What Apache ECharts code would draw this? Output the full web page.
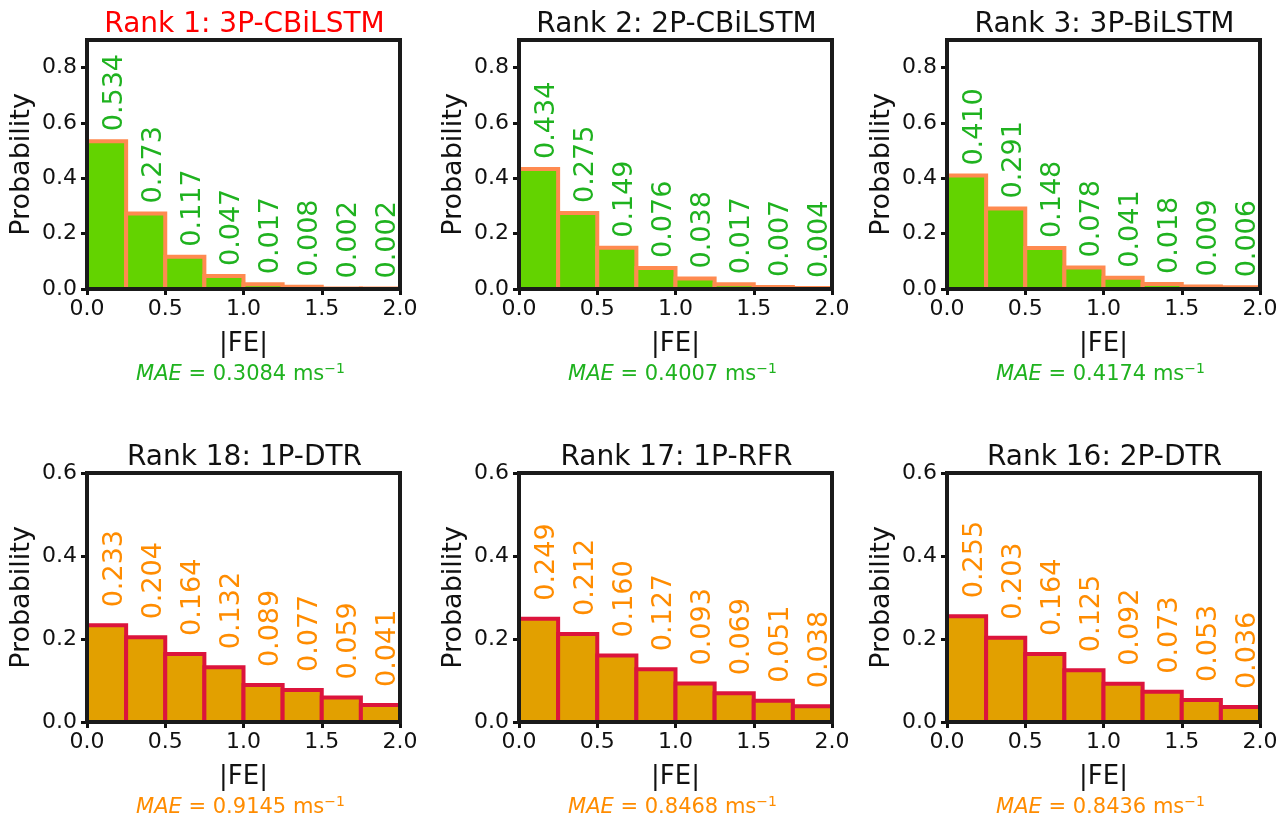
<!DOCTYPE html>
<html><head><meta charset="utf-8">
<script src="https://cdn.jsdelivr.net/npm/echarts@6/dist/echarts.min.js"></script>
<style>html,body{margin:0;padding:0;background:#fff}#c{width:1279px;height:818px}</style>
</head><body><div id="c"></div>
<script>
// ---- data ----
const binLo = [0, 0.25, 0.5, 0.75, 1.0, 1.25, 1.5, 1.75];
const binHi = [0.25, 0.5, 0.75, 1.0, 1.25, 1.5, 1.75, 2.0];
const titles = ['Rank 1: 3P-CBiLSTM', 'Rank 2: 2P-CBiLSTM', 'Rank 3: 3P-BiLSTM',
                'Rank 18: 1P-DTR', 'Rank 17: 1P-RFR', 'Rank 16: 2P-DTR'];
const probRank1  = [0.534, 0.273, 0.117, 0.047, 0.017, 0.008, 0.002, 0.002];
const probRank2  = [0.434, 0.275, 0.149, 0.076, 0.038, 0.017, 0.007, 0.004];
const probRank3  = [0.410, 0.291, 0.148, 0.078, 0.041, 0.018, 0.009, 0.006];
const probRank18 = [0.233, 0.204, 0.164, 0.132, 0.089, 0.077, 0.059, 0.041];
const probRank17 = [0.249, 0.212, 0.160, 0.127, 0.093, 0.069, 0.051, 0.038];
const probRank16 = [0.255, 0.203, 0.164, 0.125, 0.092, 0.073, 0.053, 0.036];
const maeValues = ['0.3084', '0.4007', '0.4174', '0.9145', '0.8468', '0.8436'];
const xTickValues = [0, 0.5, 1.0, 1.5, 2.0];
const yTicksTop = [0, 0.2, 0.4, 0.6, 0.8];
const yTicksBottom = [0, 0.2, 0.4, 0.6];
const yMaxTop = 0.9, yMaxBottom = 0.6;

// ---- layout / style ----
const panels = [probRank1, probRank2, probRank3, probRank18, probRank17, probRank16];
const lefts = [87, 519, 947];
const tops = [40, 473];
const W = 313, H = 249;
const FONT = 'DejaVu Sans';
const styleTop = {fill: '#63d300', stroke: '#ff8a50', label: '#1fb21f', title: '#111', mae: '#1fb21f', gap: 10};
const styleBot = {fill: '#e2a000', stroke: '#dc143c', label: '#ff8c00', title: '#111', mae: '#ff8c00', gap: 18};

const grid = [], xAxis = [], yAxis = [], series = [], graphics = [];
panels.forEach((vals, k) => {
  const row = k < 3 ? 0 : 1, col = k % 3;
  const st = row === 0 ? styleTop : styleBot;
  const left = lefts[col], top = tops[row];
  grid.push({left: left, top: top, width: W, height: H, show: true, borderColor: '#1a1a1a', borderWidth: 4,
             backgroundColor: 'transparent', z: 10, containLabel: false, outerBoundsMode: 'none'});
  xAxis.push({type: 'value', gridIndex: k, min: 0, max: 2, interval: 0.5,
    name: '|FE|', nameLocation: 'middle', nameGap: 42,
    nameTextStyle: {fontSize: 26, color: '#111', fontFamily: FONT},
    axisLine: {show: false}, splitLine: {show: false},
    axisTick: {show: true, length: 6, lineStyle: {width: 3, color: '#111'}},
    axisLabel: {margin: 9, fontSize: 22, color: '#111', fontFamily: FONT, formatter: v => v.toFixed(1)}});
  const yt = row === 0 ? yTicksTop : yTicksBottom;
  yAxis.push({type: 'value', gridIndex: k, min: 0, max: row === 0 ? yMaxTop : yMaxBottom, interval: 0.2,
    name: 'Probability', nameLocation: 'middle', nameGap: 52, nameRotate: 90,
    nameTextStyle: {fontSize: 27, color: '#111', fontFamily: FONT},
    axisLine: {show: false}, splitLine: {show: false},
    axisTick: {show: true, length: 6, lineStyle: {width: 3, color: '#111'}, customValues: yt},
    axisLabel: {margin: 10, fontSize: 22, color: '#111', fontFamily: FONT, customValues: yt, formatter: v => v.toFixed(1)}});
  const data = vals.map((v, i) => [binLo[i], binHi[i], v]);
  series.push({type: 'custom', xAxisIndex: k, yAxisIndex: k, data: data, clip: false,
    encode: {x: [0, 1], y: 2},
    renderItem: function (params, api) {
      const x0 = api.value(0), x1 = api.value(1), v = api.value(2);
      const pt = api.coord([x0, v]), pb = api.coord([x1, 0]);
      return {type: 'group', children: [
        {type: 'rect', shape: {x: pt[0], y: pt[1], width: pb[0] - pt[0], height: pb[1] - pt[1]},
         style: {fill: st.fill, stroke: st.stroke, lineWidth: 4}},
        {type: 'text', x: (pt[0] + pb[0]) / 2 + 8, y: pt[1] - st.gap, rotation: Math.PI / 2,
         style: {text: v.toFixed(3), fill: st.label, fontSize: 27, fontFamily: FONT,
                 align: 'left', verticalAlign: 'middle'}}
      ]};
    }});
  const cx = left + W / 2;
  graphics.push({type: 'text', x: cx + 1, y: row === 0 ? 25 : 458,
    style: {text: titles[k], fill: k === 0 ? '#ff0000' : st.title, fontSize: 28, fontFamily: FONT,
            align: 'center', verticalAlign: 'middle'}});
  graphics.push({type: 'text', x: cx - 3, y: top + H + 86,
    style: {text: '{i|MAE} = ' + maeValues[k] + ' ms{s|−1}', fill: st.mae, fontSize: 21, fontFamily: FONT,
            align: 'center', verticalAlign: 'middle', lineHeight: 26,
            rich: {i: {fontStyle: 'italic', fontSize: 21, fontFamily: FONT, fill: st.mae},
                   s: {fontSize: 14, fontFamily: FONT, fill: st.mae, verticalAlign: 'top', lineHeight: 26}}}});
});

const chart = echarts.init(document.getElementById('c'), null, {renderer: 'canvas'});
chart.setOption({animation: false, backgroundColor: '#fff', grid, xAxis, yAxis, series, graphic: graphics});
</script></body></html>
